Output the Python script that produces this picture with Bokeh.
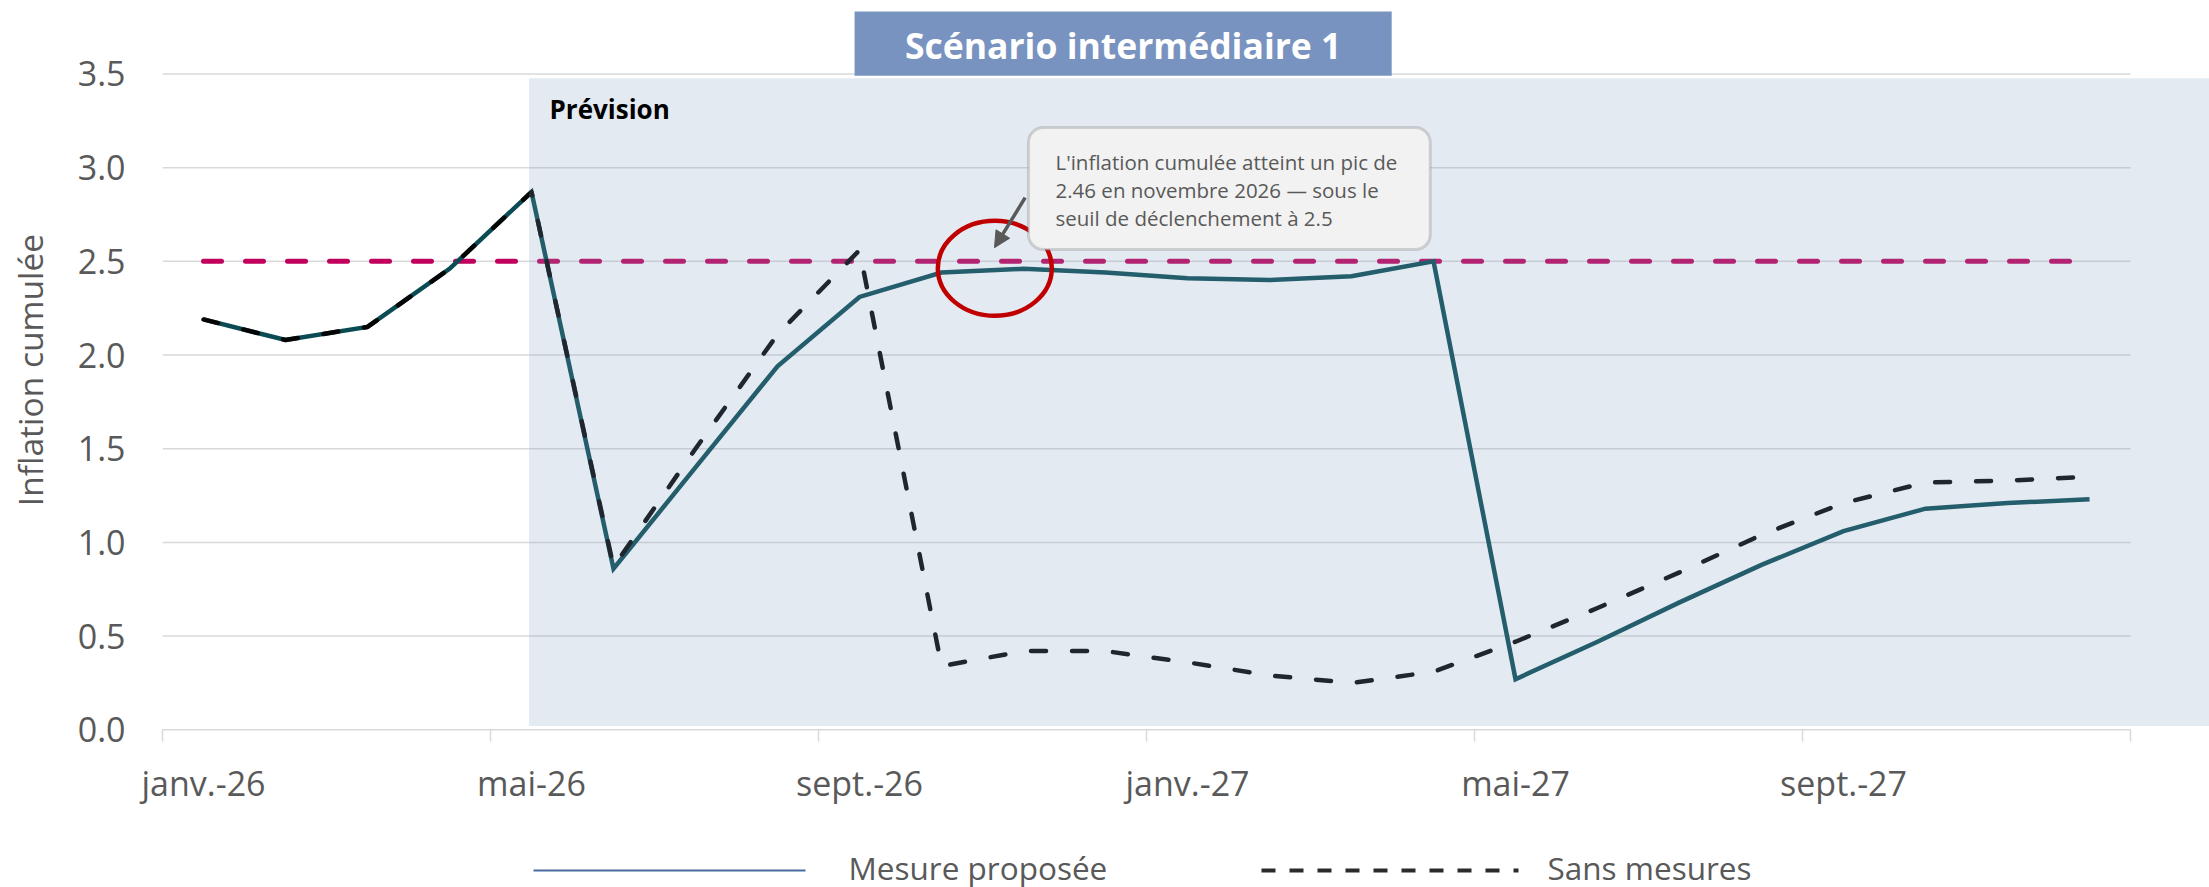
from bokeh.plotting import figure
from bokeh.layouts import column
from bokeh.models import (FixedTicker, PrintfTickFormatter, BoxAnnotation, Label,
                          Arrow, NormalHead)
from bokeh.core.properties import value
from bokeh.embed import file_html
from bokeh.resources import INLINE

# ---------------- data ----------------
months = ["janv.-26", "févr.-26", "mars-26", "avr.-26", "mai-26", "juin-26",
          "juil.-26", "août-26", "sept.-26", "oct.-26", "nov.-26", "déc.-26",
          "janv.-27", "févr.-27", "mars-27", "avr.-27", "mai-27", "juin-27",
          "juil.-27", "août-27", "sept.-27", "oct.-27", "nov.-27", "déc.-27"]

mesure_proposee = [2.19, 2.08, 2.15, 2.46, 2.87, 0.86, 1.40, 1.94, 2.31, 2.44,
                   2.46, 2.44, 2.41, 2.40, 2.42, 2.50, 0.27, 0.47, 0.68, 0.88,
                   1.06, 1.18, 1.21, 1.23]

sans_mesures = [2.19, 2.08, 2.15, 2.46, 2.87, 0.87, 1.50, 2.11, 2.56, 0.34,
                0.42, 0.42, 0.36, 0.29, 0.25, 0.31, 0.47, 0.65, 0.84, 1.04,
                1.21, 1.32, 1.33, 1.35]

seuil = 2.5
y_ticks = [0.0, 0.5, 1.0, 1.5, 2.0, 2.5, 3.0, 3.5]
label_step = 4
forecast_start = 4  # mai-26

series_names = ["Mesure proposée", "Sans mesures"]
title_text = "Scénario intermédiaire 1"
callout_lines = ["L'inflation cumulée atteint un pic de",
                 "2.46 en novembre 2026 \u2014 sous le",
                 "seuil de déclenchement à 2.5"]

# ---------------- styles ----------------
FONT = "Open Sans"
GRAY_TXT = "#595959"
GRID = "#d9d9d9"
TEAL = "#0b4b53"
BLACK = "#050505"
MAGENTA = "#c0005c"

W, H_MAIN, H_LEG = 2209, 840, 47
LEFT = 162

n = len(months)
x = list(range(n))

p = figure(width=W, height=H_MAIN,
           x_range=(-0.5, 24.463), y_range=(-0.0518, 3.892),
           output_backend="svg", toolbar_location=None,
           min_border_left=LEFT, min_border_right=0,
           min_border_top=0, min_border_bottom=H_MAIN - 739)
p.outline_line_color = None
p.background_fill_color = "white"
p.border_fill_color = "white"
p.xgrid.visible = False
p.ygrid.visible = False

# horizontal gridlines (and zero line), limited to the category span
p.segment(x0=[-0.5] * len(y_ticks), x1=[n - 0.5] * len(y_ticks),
          y0=y_ticks, y1=y_ticks, line_color=GRID, line_width=1.5)

# threshold
p.line([x[0], x[-1]], [seuil, seuil], line_color=MAGENTA, line_width=5,
       line_dash="18 24", line_cap="round")

# series
p.line(x, mesure_proposee, line_color=TEAL, line_width=4.5, line_join="miter")
p.line(x, sans_mesures, line_color=BLACK, line_width=4.5,
       line_dash="15 26", line_cap="round", line_join="round")

# forecast shading (translucent overlay on top of the series)
p.quad(left=[forecast_start - 0.03], right=[40], bottom=[0.02], top=[3.477],
       fill_color="#809ec2", fill_alpha=0.22, line_color=None)

# red highlight ellipse around the peak
p.ellipse(x=[9.65], y=[2.463], width=[1.39], height=[0.507],
          fill_color=None, line_color="#c00000", line_width=4.5)

# ---------------- annotations ----------------
p.add_layout(BoxAnnotation(left=7.94, right=14.49, bottom=3.49, top=3.833,
                           fill_color="#7893c0", fill_alpha=1.0, line_color=None))
p.add_layout(Label(x=11.215, y=3.655, text=title_text, text_align="center",
                   text_baseline="middle", text_color="white",
                   text_font=FONT, text_font_style="bold", text_font_size="35.5px"))

p.add_layout(Label(x=4.22, y=3.315, text="Prévision", text_baseline="middle",
                   text_color="black", text_font=FONT, text_font_style="bold",
                   text_font_size="26px"))

p.add_layout(BoxAnnotation(left=10.06, right=14.96, bottom=2.563, top=3.214,
                           fill_color="#f2f2f2", fill_alpha=1.0,
                           line_color="#7f7f7f", line_width=3, border_radius=15))
for i, t in enumerate(callout_lines):
    p.add_layout(Label(x=10.39, y=3.028 - i * 0.1495, text=t,
                       text_baseline="middle", text_color=GRAY_TXT,
                       text_font=FONT, text_font_size="20.5px"))

p.add_layout(Arrow(end=NormalHead(size=16, fill_color="#595959", line_color="#595959"),
                   x_start=10.02, y_start=2.84, x_end=9.646, y_end=2.573,
                   line_color="#595959", line_width=3.5))

# ---------------- axes ----------------
major = list(range(0, n, label_step))
minor = [i - 0.5 for i in range(0, n + 1, label_step)]
p.xaxis.ticker = FixedTicker(ticks=major, minor_ticks=minor)
p.xaxis.major_label_overrides = {i: months[i] for i in major}
p.xaxis.axis_line_color = None
p.xaxis.major_tick_line_color = None
p.xaxis.major_tick_in = 0
p.xaxis.major_tick_out = 0
p.xaxis.minor_tick_line_color = GRID
p.xaxis.minor_tick_line_width = 1.5
p.xaxis.minor_tick_in = 10
p.xaxis.minor_tick_out = 2
p.xaxis.major_label_standoff = 18
p.xaxis.major_label_text_font = FONT
p.xaxis.major_label_text_font_size = "34px"
p.xaxis.major_label_text_color = GRAY_TXT

p.yaxis.ticker = FixedTicker(ticks=y_ticks, minor_ticks=[])
p.yaxis.formatter = PrintfTickFormatter(format="%.1f")
p.yaxis.axis_line_color = None
p.yaxis.major_tick_line_color = None
p.yaxis.minor_tick_line_color = None
p.yaxis.major_tick_in = 0
p.yaxis.major_tick_out = 0
p.yaxis.major_label_standoff = 37
p.yaxis.major_label_text_font = FONT
p.yaxis.major_label_text_font_size = "34px"
p.yaxis.major_label_text_color = GRAY_TXT
p.yaxis.axis_label = "Inflation cumulée"
p.yaxis.axis_label_text_font = FONT
p.yaxis.axis_label_text_font_size = "33.5px"
p.yaxis.axis_label_text_font_style = "normal"
p.yaxis.axis_label_text_color = GRAY_TXT
p.yaxis.axis_label_standoff = 22

# ---------------- legend strip (page pixel coordinates) ----------------
lg = figure(width=W, height=H_LEG, x_range=(LEFT, W), y_range=(H_LEG, 0),
            output_backend="svg", toolbar_location=None,
            x_axis_type=None, y_axis_type=None,
            min_border_left=LEFT, min_border_right=0,
            min_border_top=0, min_border_bottom=0)
lg.outline_line_color = None
lg.xgrid.visible = False
lg.ygrid.visible = False
lg.line([533, 805], [30, 30], line_color="#4a6b9e", line_width=2)
lg.line([1261, 1518], [30, 30], line_color="#2b2b2b", line_width=4, line_dash="14 14")
lg.text(x=[848, 1547], y=[26.5, 26.5], text=series_names,
        text_font=value(FONT), text_font_size="31.5px", text_color=GRAY_TXT,
        text_baseline="middle", text_align="left")

layout = column(p, lg, spacing=0)
open("out.html", "w").write(file_html(layout, INLINE))
